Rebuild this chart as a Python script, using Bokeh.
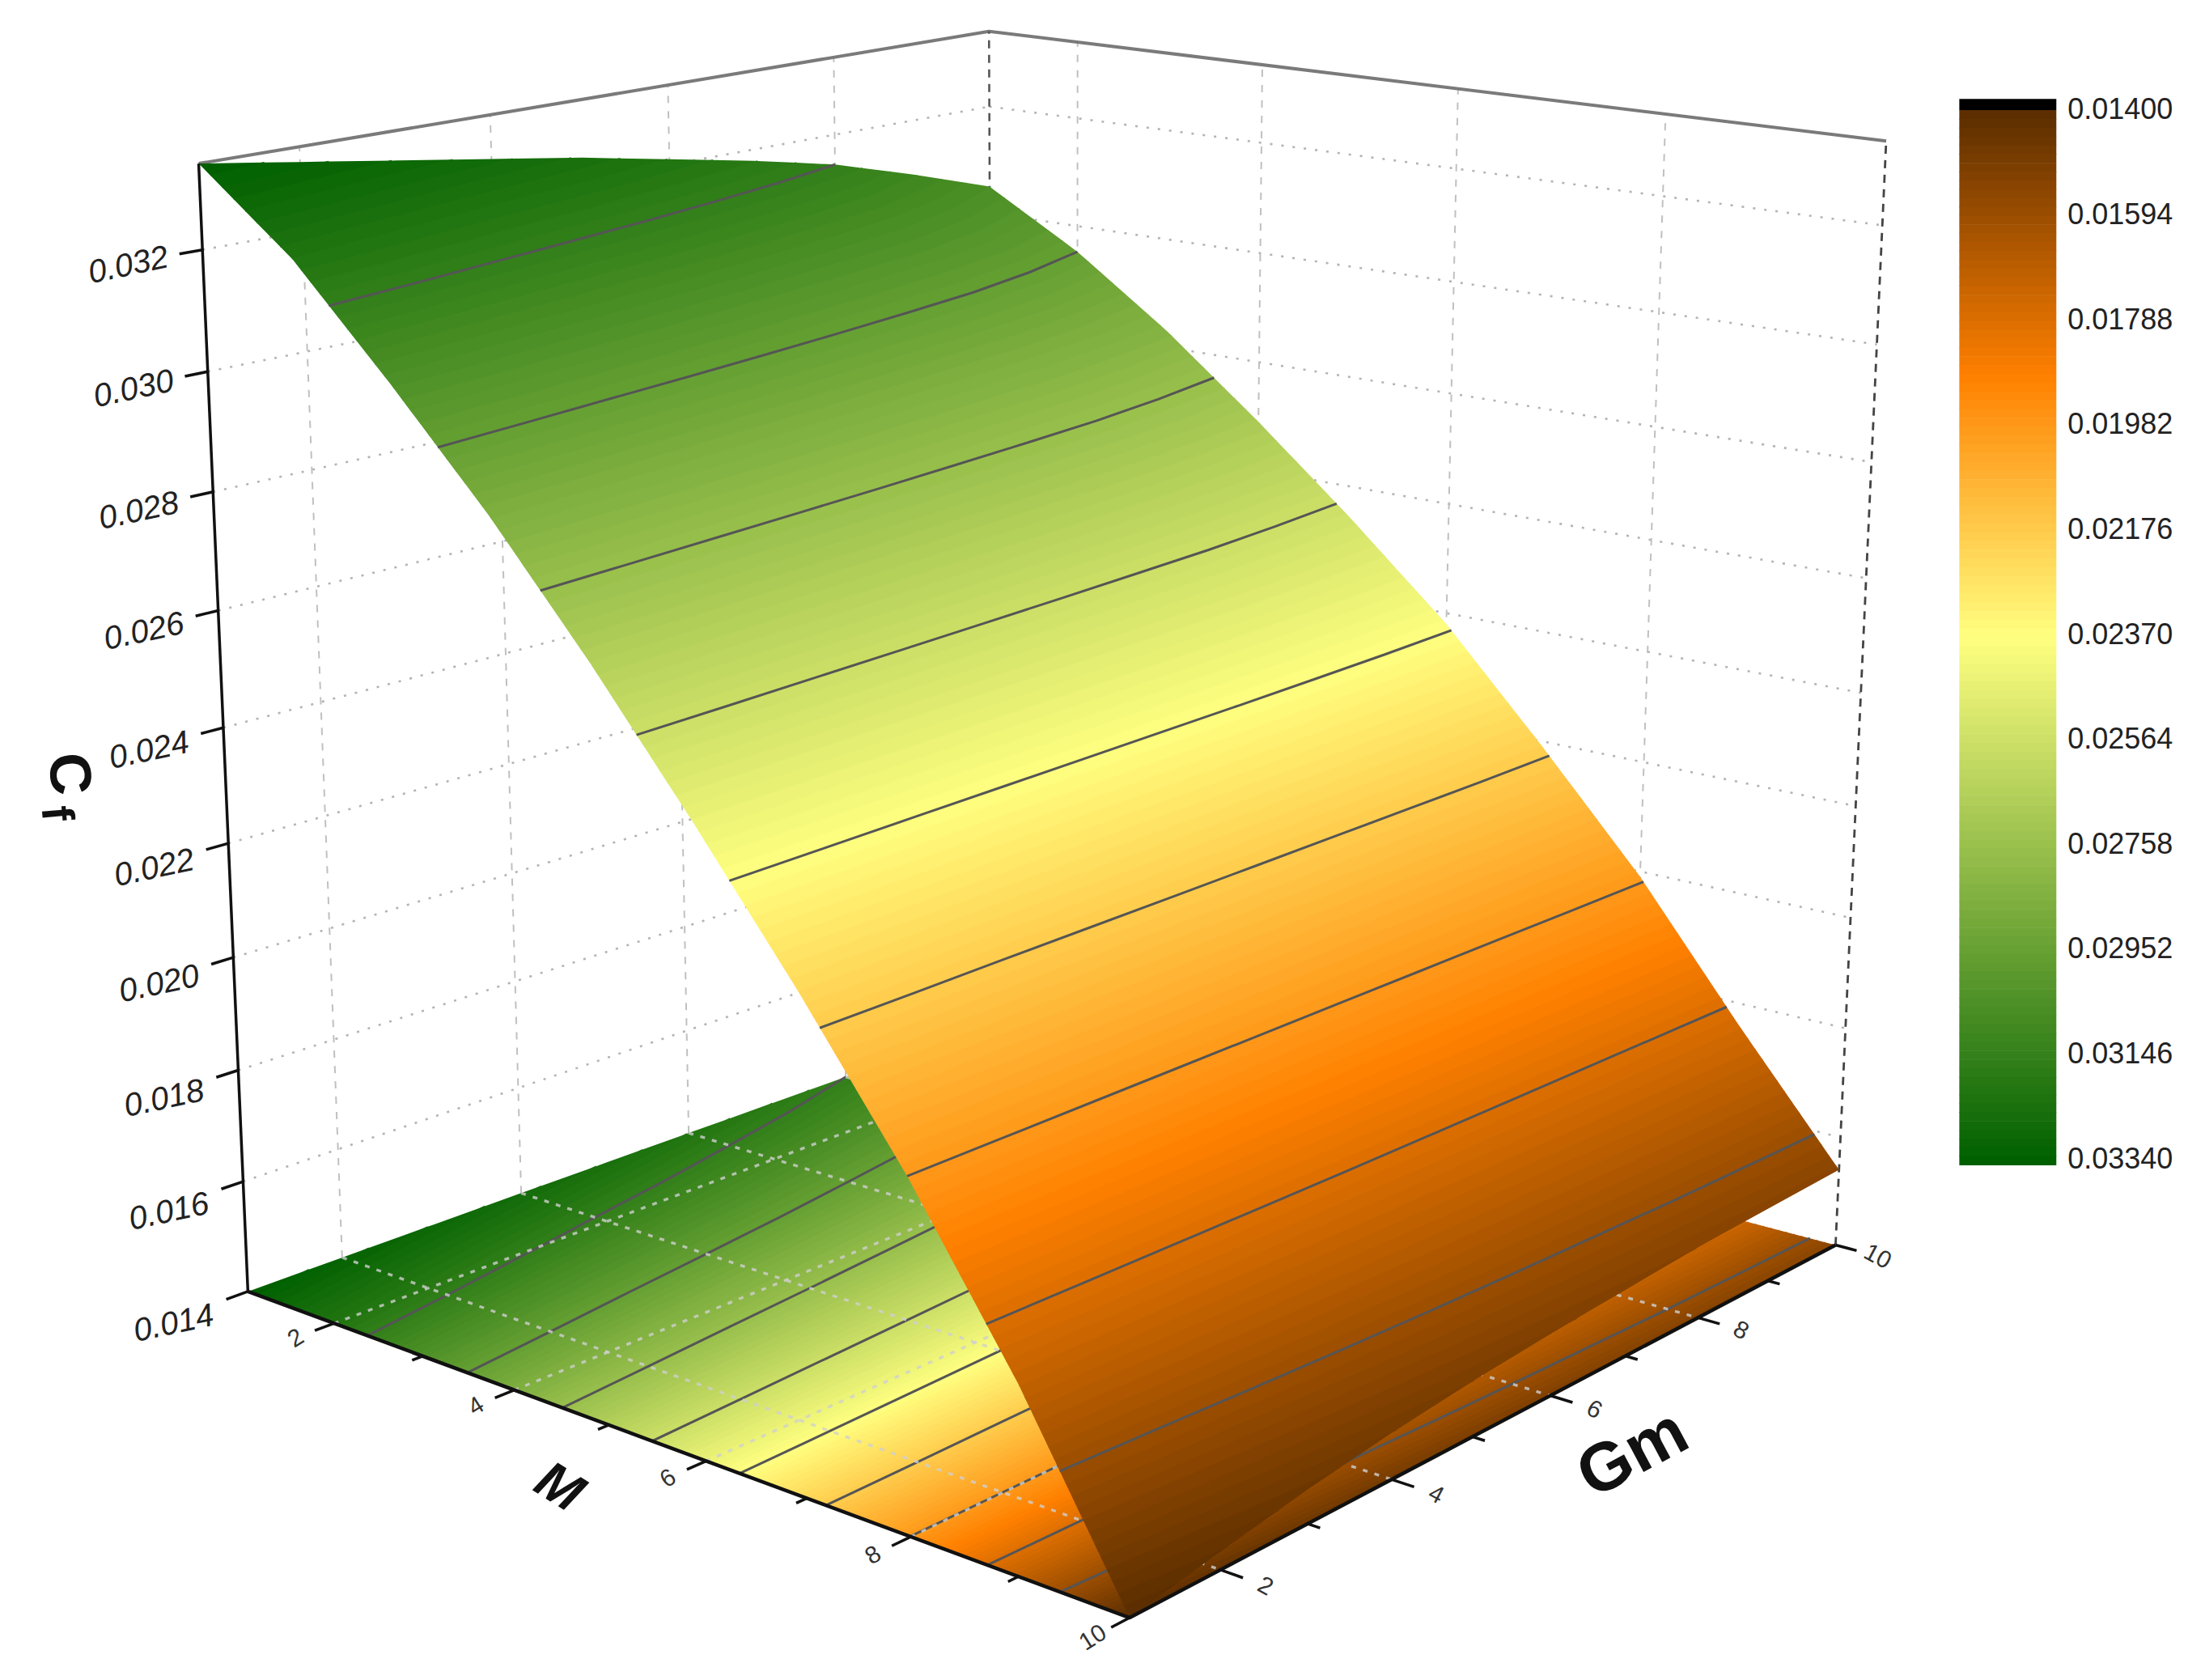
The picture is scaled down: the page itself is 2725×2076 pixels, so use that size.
import numpy as np
from bokeh.plotting import figure
from bokeh.embed import file_html
from bokeh.resources import INLINE
from bokeh.core.properties import value

# ---- data ----
M_values = [1, 2, 3, 4, 5, 6, 7, 8, 9, 10]
Gm_values = [1, 2, 3, 4, 5, 6, 7, 8, 9, 10]
Cf_M1 = [.03340, .03315, .03290, .03265, .03240, .03210, .03180, .03146, .03100, .03050]
Cf_M2 = [.03210, .03182, .03153, .03127, .03102, .03076, .03050, .03024, .02991, .02952]
Cf_M3 = [.03040, .03017, .02994, .02973, .02952, .02931, .02910, .02889, .02862, .02830]
Cf_M4 = [.02860, .02841, .02823, .02806, .02789, .02772, .02755, .02738, .02716, .02690]
Cf_M5 = [.02660, .02647, .02634, .02622, .02610, .02598, .02586, .02574, .02558, .02540]
Cf_M6 = [.02445, .02438, .02431, .02424, .02418, .02411, .02405, .02398, .02390, .02380]
Cf_M7 = [.02220, .02217, .02213, .02210, .02207, .02204, .02201, .02198, .02195, .02190]
Cf_M8 = [.01980, .01981, .01982, .01983, .01984, .01985, .01986, .01987, .01989, .01990]
Cf_M9 = [.01710, .01718, .01726, .01733, .01739, .01744, .01748, .01752, .01756, .01760]
Cf_M10 = [.01400, .01430, .01458, .01480, .01497, .01510, .01520, .01530, .01535, .01540]

z_ticks = [.014, .016, .018, .020, .022, .024, .026, .028, .030, .032]
z_labels = ["0.014", "0.016", "0.018", "0.020", "0.022", "0.024", "0.026", "0.028", "0.030", "0.032"]
xy_major = [2, 4, 6, 8, 10]
xy_minor = [3, 5, 7, 9]
xy_labels = ["2", "4", "6", "8", "10"]
cbar_levels = [.01400, .01594, .01788, .01982, .02176, .02370, .02564, .02758, .02952, .03146, .03340]
cbar_labels = ["0.01400", "0.01594", "0.01788", "0.01982", "0.02176", "0.02370",
               "0.02564", "0.02758", "0.02952", "0.03146", "0.03340"]
cmap_stops = [.0140, .01885, .0237, .02855, .0334]
cmap_colors = [(0x5c, 0x2e, 0x00), (0xff, 0x80, 0x00), (0xff, 0xff, 0x80), (0x80, 0xb0, 0x40), (0x00, 0x60, 0x00)]

# ---- layout ----
FONT = value("Liberation Sans")
S = 2725 / 1568
Zmin, Zmax = .014, .0334
Mlo, Mhi, Glo, Ghi = 1, 10, 1, 10

# picture positions of the box corners: (M, Gm, z) normalised -> pixel
corners = [
    ((0, 0, 0), (176, 918)), ((1, 0, 0), (803, 1150)), ((1, 1, 0), (1305, 885)),
    ((0, 1, 0), (706, 728)), ((0, 0, 1), (141, 116)), ((0, 1, 1), (703, 22)),
    ((1, 1, 1), (1341, 100)),
]
A, b = [], []
for (u, v, w), (px, py) in corners:
    px, py = px * S, py * S
    A.append([u, v, w, 1, 0, 0, 0, 0, -px * u, -px * v, -px * w]); b.append(px)
    A.append([0, 0, 0, 0, u, v, w, 1, -py * u, -py * v, -py * w]); b.append(py)
sol = np.linalg.lstsq(np.array(A, float), np.array(b, float), rcond=None)[0]
P = np.append(sol, 1.0).reshape(3, 4)


def hom(u, v, w):
    h = np.stack([u, v, w, np.ones_like(u)])
    q = np.tensordot(P, h, axes=1)
    return q[0] / q[2], q[1] / q[2]


# what the perspective fit leaves over at each corner is spread over the box
resid = []
for (u, v, w), (px, py) in corners:
    hx, hy = hom(np.array(float(u)), np.array(float(v)), np.array(float(w)))
    resid.append((u, v, w, px * S - hx, py * S - hy))


def proj(m, g, z):
    m, g, z = np.broadcast_arrays(np.asarray(m, float), np.asarray(g, float), np.asarray(z, float))
    u = (m - Mlo) / (Mhi - Mlo)
    v = (g - Glo) / (Ghi - Glo)
    w = (z - Zmin) / (Zmax - Zmin)
    x, y = hom(u, v, w)
    for cu, cv, cw, rx, ry in resid:
        wt = (u if cu else 1 - u) * (v if cv else 1 - v) * (w if cw else 1 - w)
        x = x + wt * rx
        y = y + wt * ry
    return x, y


def palette(n):
    vals = np.linspace(Zmin, Zmax, n)
    arr = np.array(cmap_colors, float)
    return ["#%02x%02x%02x" % tuple(int(round(np.interp(t, cmap_stops, arr[:, i]))) for i in range(3)) for t in vals]


Cf = np.array([Cf_M1, Cf_M2, Cf_M3, Cf_M4, Cf_M5, Cf_M6, Cf_M7, Cf_M8, Cf_M9, Cf_M10])
MM, GG = np.meshgrid(M_values, Gm_values, indexing="ij")

p = figure(width=2709, height=2060, x_range=(0, 2709), y_range=(2060, 0),
           output_backend="svg", toolbar_location=None, min_border=0,
           outline_line_color=None, background_fill_color="white")
p.axis.visible = False
p.xgrid.visible = False
p.ygrid.visible = False


def lines(xs, ys, **kw):
    p.multi_line([list(x) for x in xs], [list(y) for y in ys], **kw)


GRID_DOT = dict(line_color="#b4b4b4", line_width=2.6, line_dash="3 11")
GRID_DASH = dict(line_color="#c0c0c0", line_width=2, line_dash="9 10")
t = np.array([1.0, 10.0])

# wall grids
xs, ys = zip(*[proj(1, t, z) for z in z_ticks[1:]])
lines(xs, ys, **GRID_DOT)
xs, ys = zip(*[proj(t, 10, z) for z in z_ticks[1:]])
lines(xs, ys, **GRID_DOT)
zr = np.array([Zmin, Zmax])
xs, ys = zip(*[proj(1, g, zr) for g in [2, 4, 6, 8]])
lines(xs, ys, **GRID_DASH)
xs, ys = zip(*[proj(m, 10, zr) for m in [2, 4, 6, 8]])
lines(xs, ys, **GRID_DASH)

# box frame
x, y = proj([1, 1, 10], [1, 10, 10], Zmax)
p.line(x, y, line_color="#7a7a7a", line_width=4)
x, y = proj(1, 10, zr)
p.line(x, y, line_color="#555555", line_width=2.6, line_dash="10 8")
x, y = proj(10, 10, zr)
p.line(x, y, line_color="#444444", line_width=2.8, line_dash="10 8")

# floor map and surface
N = 120
levels = np.linspace(Zmin, Zmax, N + 1)
band_colors = palette(N)
line_cols = palette(N + 1)
contour_levels = cbar_levels[1:-1]

fx, fy = proj(MM, GG, Zmin)
p.contour(fx, fy, Cf, levels=levels, fill_color=band_colors, line_color=line_cols, line_width=1.5)
p.contour(fx, fy, Cf, levels=contour_levels, fill_color=None, line_color="#555555", line_width=3)

# floor grid, over the floor map
FLOOR = dict(line_color="#cfcfcf", line_width=3.4, line_dash="6 9", line_alpha=0.8)
xs, ys = zip(*[proj(m, t, Zmin) for m in [2, 4, 6, 8]])
lines(xs, ys, **FLOOR)
xs, ys = zip(*[proj(t, g, Zmin) for g in [2, 4, 6, 8]])
lines(xs, ys, **FLOOR)

sx, sy = proj(MM, GG, Cf)
p.contour(sx, sy, Cf, levels=levels, fill_color=band_colors, line_color=line_cols, line_width=1.5)
p.contour(sx, sy, Cf, levels=contour_levels, fill_color=None, line_color="#555555", line_width=3)

# axes
x, y = proj(1, 1, zr)
p.line(x, y, line_color="#111111", line_width=3.5)
x, y = proj([1, 10, 10], [1, 1, 10], Zmin)
p.line(x, y, line_color="#111111", line_width=4.5)

TICK = dict(line_color="#111111", line_width=3.5)
for z in z_ticks:
    x, y = proj(1, [1, 1 - 9 * .025], z)
    p.line(x, y, **TICK)
for vals, d in ((xy_major, .022), (xy_minor, .012)):
    for m in vals:
        x, y = proj(m, [1, 1 - 9 * d], Zmin)
        p.line(x, y, **TICK)
        x, y = proj([10, 10 + 9 * d], m, Zmin)
        p.line(x, y, **TICK)

# tick labels
tx, ty = proj(1, 1, np.array(z_ticks))
w = (np.array(z_ticks) - Zmin) / (Zmax - Zmin)
p.text(tx - 92, ty + 16 + (1 - w) * 22, text=z_labels, text_font=FONT, text_font_size="40px",
       text_font_style="italic", text_color="#222222", angle=np.radians(12), text_align="center",
       text_baseline="middle")
mx, my = proj(np.array(xy_major), 1 - 9 * .044, Zmin)
p.text(mx, my, text=xy_labels, text_font=FONT, text_font_size="30px", text_color="#333333",
       angle=np.radians(32), text_align="center", text_baseline="middle")
gx, gy = proj(10 + 9 * .044, np.array(xy_major), Zmin)
p.text(gx, gy, text=xy_labels, text_font=FONT, text_font_size="30px", text_color="#333333",
       angle=np.radians(-28), text_align="center", text_baseline="middle")

# axis titles
p.text([1160 * S], [1032 * S], text=["Gm"], text_font=FONT, text_font_size="84px", text_font_style="bold",
       text_color="#111111", angle=np.radians(28), text_align="center", text_baseline="middle")
p.text([398 * S], [1056 * S], text=["M"], text_font=FONT, text_font_size="66px", text_font_style="bold italic",
       text_color="#111111", angle=np.radians(-32), text_align="center", text_baseline="middle")
p.text([50 * S], [550 * S], text=["C"], text_font=FONT, text_font_size="72px", text_font_style="bold",
       text_color="#111111", angle=np.radians(-85), text_align="center", text_baseline="middle")
p.text([41 * S], [578 * S], text=["f"], text_font=FONT, text_font_size="56px", text_font_style="bold",
       text_color="#111111", angle=np.radians(-85), text_align="center", text_baseline="middle")

# colour bar
CB_L, CB_R, CB_T, CB_B = 1393 * S, 1462 * S, 78 * S, 828 * S
def cb_y(v):
    return CB_T + (np.asarray(v, float) - Zmin) / (Zmax - Zmin) * (CB_B - CB_T)
p.quad(left=CB_L, right=CB_R, top=cb_y(levels[:-1]), bottom=cb_y(levels[1:]) + 0.6,
       fill_color=band_colors, line_color=None)
p.quad(left=[CB_L], right=[CB_R], top=[70 * S], bottom=[CB_T], fill_color="#000000", line_color=None)
lab_y = cb_y(cbar_levels) - S * np.linspace(1, 5, 11)
p.text(1470 * S, lab_y, text=cbar_labels, text_font=FONT, text_font_size="36px", text_color="#222222",
       text_align="left", text_baseline="middle")

open("out.html", "w").write(file_html(p, INLINE))
